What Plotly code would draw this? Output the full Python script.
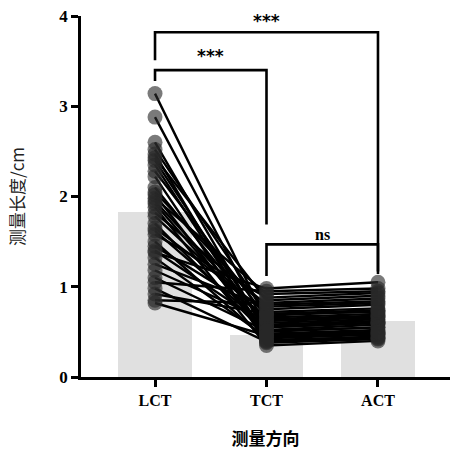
import plotly.graph_objects as go

categories = ["LCT", "TCT", "ACT"]
bar_means = [1.83, 0.47, 0.625]

lct = [3.14, 2.88, 2.60, 2.52, 2.47, 2.43, 2.40, 2.35, 2.28, 2.22, 2.10, 2.05,
       2.02, 1.98, 1.95, 1.92, 1.88, 1.82, 1.78, 1.70, 1.65, 1.62, 1.58, 1.50,
       1.45, 1.40, 1.38, 1.32, 1.25, 1.18, 1.10, 1.05, 0.98, 0.92, 0.85, 0.82]
tct = [0.62, 0.55, 0.48, 0.70, 0.40, 0.85, 0.52, 0.45, 0.66, 0.38, 0.58, 0.75,
       0.43, 0.92, 0.60, 0.50, 0.35, 0.80, 0.64, 0.47, 0.72, 0.55, 0.88, 0.41,
       0.68, 0.57, 0.98, 0.44, 0.78, 0.63, 0.51, 0.95, 0.39, 0.70, 0.82, 0.46]
act = [0.66, 0.60, 0.52, 0.72, 0.45, 0.90, 0.58, 0.48, 0.70, 0.42, 0.62, 0.80,
       0.47, 0.95, 0.64, 0.55, 0.40, 0.84, 0.68, 0.50, 0.76, 0.60, 0.93, 0.44,
       0.73, 0.60, 1.05, 0.48, 0.82, 0.67, 0.55, 0.98, 0.43, 0.74, 0.87, 0.50]

# significance brackets: (left category, right category, bar height, left leg end, right leg end, label, label y)
brackets = [
    ("LCT", "ACT", 3.82, 3.51, 1.17, "***", 3.94),
    ("LCT", "TCT", 3.40, 3.28, 1.69, "***", 3.56),
    ("TCT", "ACT", 1.47, 1.12, 1.14, "ns", 1.58),
]

fig = go.Figure()
fig.add_trace(go.Bar(x=categories, y=bar_means, marker=dict(color="#e0e0e0", line=dict(width=0)),
                     width=0.66, showlegend=False))

lx, ly = [], []
for a, b, c in zip(lct, tct, act):
    lx += categories + [None]
    ly += [a, b, c, None]
fig.add_trace(go.Scatter(x=lx, y=ly, mode="lines", line=dict(color="black", width=2.4),
                         showlegend=False, connectgaps=False))

mx, my = [], []
for a, b, c in zip(lct, tct, act):
    mx += categories
    my += [a, b, c]
fig.add_trace(go.Scatter(x=mx, y=my, mode="markers",
                         marker=dict(size=15, color="rgb(40,40,40)", opacity=0.62, line=dict(width=0)),
                         showlegend=False))

idx = {c: i for i, c in enumerate(categories)}
for l, r, h, ll, rl, lab, ty in brackets:
    x0, x1 = idx[l], idx[r]
    fig.add_trace(go.Scatter(x=[x0, x0, x1, x1], y=[ll, h, h, rl], mode="lines",
                             line=dict(color="black", width=2.6), showlegend=False,
                             cliponaxis=False, xaxis="x2", yaxis="y"))
    fig.add_annotation(x=(x0 + x1) / 2, y=ty, xref="x2", yref="y", text=f"<b>{lab}</b>",
                       showarrow=False,
                       font=dict(family="DejaVu Sans" if lab == "***" else "Liberation Serif",
                                 size=17 if lab == "***" else 16, color="black"))

serif = "Liberation Serif"
fig.update_layout(
    width=453, height=451,
    margin=dict(l=81, r=3, t=16, b=74),
    plot_bgcolor="white", paper_bgcolor="white",
    bargap=0,
    xaxis=dict(type="category", categoryorder="array", categoryarray=categories,
               range=[-0.664, 2.646], showline=True, linecolor="black", linewidth=2.5,
               ticks="outside", ticklen=7, tickwidth=2.5, tickcolor="black",
               tickfont=dict(family=serif, size=16, color="black"),
               tickvals=categories, ticktext=[f"<b>{c}</b>" for c in categories],
               title=dict(text="<b>测量方向</b>", font=dict(family="Noto Sans CJK SC", size=17, color="black"),
                          standoff=26),
               showgrid=False, zeroline=False, automargin=False),
    xaxis2=dict(range=[-0.664, 2.646], overlaying="x", visible=False, showgrid=False),
    yaxis=dict(range=[0, 4], showline=True, linecolor="black", linewidth=2.5,
               ticks="outside", ticklen=7, tickwidth=2.5, tickcolor="black",
               tickvals=[0, 1, 2, 3, 4], ticktext=["<b>0</b>", "<b>1</b>", "<b>2</b>", "<b>3</b>", "<b>4</b>"],
               tickfont=dict(family=serif, size=17, color="black"),
               title=dict(text="测量长度/cm", font=dict(family="Noto Sans CJK SC", size=17, color="#222"),
                          standoff=31),
               showgrid=False, zeroline=False, automargin=False),
)

fig.write_html("out.html", config={"displayModeBar": False},
               post_script="document.body.style.margin='0';")
